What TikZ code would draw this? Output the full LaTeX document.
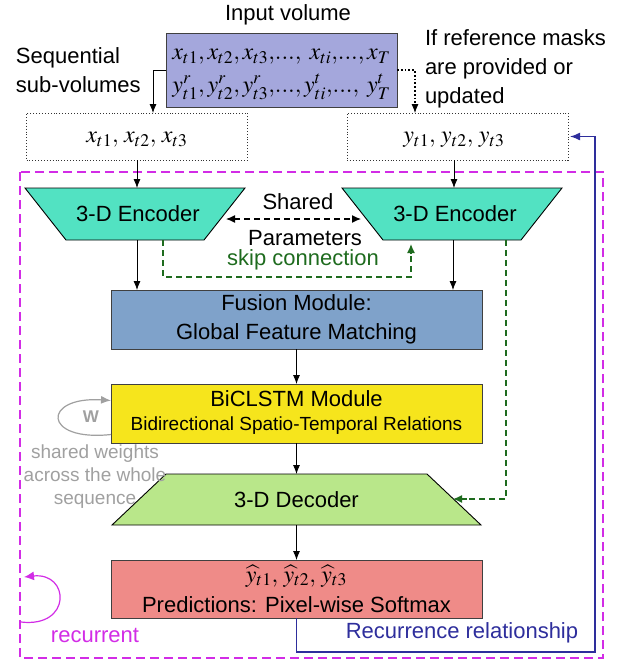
\documentclass[tikz,border=0pt]{standalone}
\usepackage{mathptmx}
\usepackage{fontspec}
\setmainfont{Liberation Sans}
\usetikzlibrary{arrows.meta,calc}
\definecolor{inboxc}{HTML}{A4A7DC}
\definecolor{encc}{HTML}{52E2C2}
\definecolor{fusc}{HTML}{7FA2CA}
\definecolor{bicc}{HTML}{F6E51C}
\definecolor{decc}{HTML}{B9E78A}
\definecolor{predc}{HTML}{EF8B88}
\definecolor{magc}{HTML}{D22CE6}
\definecolor{bluec}{HTML}{2E2E9C}
\definecolor{greenc}{HTML}{1E6B1E}
\definecolor{grayc}{HTML}{A0A0A0}
\begin{document}
\begin{tikzpicture}[x=1pt,y=-1pt,
  font=\fontsize{22}{29}\selectfont,
  every node/.style={inner sep=0pt,outer sep=0pt},
  arr/.style={-{Latex[length=9pt,width=7pt]},line width=0.8pt},
  boxst/.style={draw=black!75,line width=0.9pt,minimum width=371pt},
  dotbox/.style={draw=black!80,dotted,line width=0.9pt,minimum width=221pt,minimum height=47pt},
  small/.style={font=\fontsize{19}{23}\selectfont},
  mth/.style={font=\fontsize{24}{30}\selectfont}
]
\useasboundingbox (0,0) rectangle (633,662);

% input
\node (title) at (288,15) {Input volume};
\node[draw=black!75,line width=0.9pt,fill=inboxc,minimum width=231pt,minimum height=74pt] (input) at (281.5,70) {};
\node[mth] (l1) at (281.5,57) {$x_{t1},x_{t2},x_{t3},\!...,\;x_{ti},\!...,x_T$};
\node[mth] (l2) at (281.5,87) {$y^r_{t1},y^r_{t2},y^r_{t3},\!...,y^t_{ti},\!...,\;y^t_T$};
\node[align=left,anchor=west] (seq) at (16,70) {Sequential\\sub-volumes};
\node[align=left,anchor=north west] (ifref) at (425,30) {If reference masks\\are provided or\\updated};

\node[dotbox] (xbox) at (137,136.5) {};
\node[mth] (xt) at (137,140) {$x_{t1},\,x_{t2},\,x_{t3}$};
\node[dotbox] (ybox) at (457.5,136.5) {};
\node[mth] (yt) at (454,140) {$y_{t1},\,y_{t2},\,y_{t3}$};

\coordinate (a1) at (153,113);
\coordinate (a2) at (415,113);
\draw[arr] (input.west) -| (a1);
\draw[dotted,line width=1.8pt] (input.east) -| ($(a2)+(0,-9)$);
\draw[-{Latex[length=9pt,width=7pt]},line width=0.8pt] ($(a2)+(0,-9)$) -- (a2);

% container
\draw[magc,line width=1.8pt,dash pattern=on 9pt off 5pt] (20,172) rectangle (603,658);

% encoders
\coordinate (e1a) at (25,188); \coordinate (e1b) at (245,188);
\coordinate (e1c) at (204,240); \coordinate (e1d) at (66,240);
\draw[fill=encc,line width=0.9pt] (e1a) -- (e1b) -- (e1c) -- (e1d) -- cycle;
\node (enc1) at (138,214) {3-D Encoder};
\coordinate (e2a) at (342,188); \coordinate (e2b) at (562,188);
\coordinate (e2c) at (521,240); \coordinate (e2d) at (383,240);
\draw[fill=encc,line width=0.9pt] (e2a) -- (e2b) -- (e2c) -- (e2d) -- cycle;
\node (enc2) at (455,214) {3-D Encoder};

\coordinate (xe1) at (137,160); \coordinate (xe2) at (137,188);
\coordinate (ye1) at (454,160); \coordinate (ye2) at (454,188);
\draw[arr] (xe1) -- (xe2);
\draw[arr] (ye1) -- (ye2);

\node (shared) at (298,202) {Shared};
\node (params) at (305,238) {Parameters};
\coordinate (sh1) at (226,219); \coordinate (sh2) at (361,219);
\draw[{Latex[length=9pt,width=8pt]}-{Latex[length=9pt,width=8pt]},line width=1.2pt,dash pattern=on 6pt off 4pt] (sh1) -- (sh2);

% skip connection
\coordinate (sk1) at (163,240); \coordinate (sk2) at (411,240);
\draw[greenc,line width=1.3pt,dash pattern=on 6pt off 4pt] (sk1) |- ($(sk2)+(0,37)$) -- ($(sk2)+(0,14)$);
\draw[greenc,line width=1.3pt,-{Latex[length=9pt,width=8pt]}] ($(sk2)+(0,14)$) -- ($(sk2)+(0,4)$);
\node[text=greenc] (skip) at (303,260) {skip connection};

% fusion
\node[boxst,fill=fusc,minimum height=59pt,align=center] (fusion) at (296.5,319.5) {Fusion Module:\\Global Feature Matching};
\coordinate (f1) at (137,240); \coordinate (f2) at (453,240);
\draw[arr] (f1) -- (f1 |- fusion.north);
\draw[arr] (f2) -- (f2 |- fusion.north);

% biclstm
\node[boxst,fill=bicc,minimum height=59pt] (bic) at (296.5,413.5) {};
\node (bict) at (296.5,399) {BiCLSTM Module};
\node[small] (bics) at (296.5,426) {Bidirectional Spatio-Temporal Relations};
\draw[arr] (fusion.south) -- (bic.north);

% W loop
\coordinate (w1) at ($(bic.west)+(0,21)$);
\coordinate (w2) at ($(bic.west)+(0,-13)$);
\draw[grayc,line width=1.2pt,-{Latex[length=10pt,width=8pt]}] (w1) .. controls (42,442) and (42,396) .. (w2);
\node[grayc,font=\fontsize{17}{20}\selectfont\bfseries] (W) at (91,417) {W};

% decoder
\coordinate (d1) at (166,474); \coordinate (d2) at (427,474);
\coordinate (d3) at (481,525); \coordinate (d4) at (112,525);
\draw[fill=decc,line width=0.9pt] (d1) -- (d2) -- (d3) -- (d4) -- cycle;
\node (dec) at (296.5,500) {3-D Decoder};
\coordinate (dtop) at (296.5,474);
\draw[arr] (bic.south) -- (dtop);
\node[grayc,small,align=center] (sw) at (95,477) {shared weights\\across the whole\\sequence};

% green right
\coordinate (gr1) at (506,240); \coordinate (gr2) at (453,499);
\draw[greenc,line width=1.3pt,dash pattern=on 6pt off 4pt] (gr1) |- ($(gr2)+(12,0)$);
\draw[greenc,line width=1.3pt,-{Latex[length=9pt,width=8pt]}] ($(gr2)+(14,0)$) -- (gr2);

% predictions
\node[boxst,fill=predc,minimum height=58pt] (pred) at (296.5,589) {};
\node[mth] (yh) at (296.5,576) {$\widehat{y}_{t1},\,\widehat{y}_{t2},\,\widehat{y}_{t3}$};
\node (predt) at (296.5,605) {Predictions: Pixel-wise Softmax};
\coordinate (dbot) at (296.5,525);
\draw[arr] (dbot) -- (pred.north);

% recurrence
\coordinate (rb) at (595,652);
\draw[bluec,line width=1.4pt,-{Latex[length=10pt,width=8pt]}] (pred.south) |- (rb) |- ($(ybox.east)+(2,0)$);
\node[text=bluec] (rec) at (462,633) {Recurrence relationship};

% recurrent
\coordinate (rc1) at (21,622); \coordinate (rc2) at (24,577);
\draw[magc,line width=1.2pt,-{Latex[length=10pt,width=9pt]}] (rc1) .. controls (72,628) and (70,572) .. (rc2);
\node[text=magc] (recur) at (95,635) {recurrent};
\end{tikzpicture}
\end{document}
